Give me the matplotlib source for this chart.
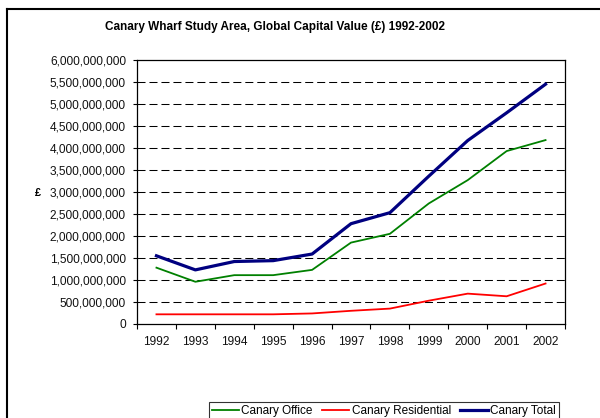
import matplotlib
matplotlib.use("Agg")
import matplotlib.pyplot as plt
import matplotlib.ticker as ticker
from matplotlib.lines import Line2D

plt.rcParams['font.family'] = ['Liberation Sans', 'DejaVu Sans']

years = ["1992", "1993", "1994", "1995", "1996", "1997",
         "1998", "1999", "2000", "2001", "2002"]
office = [1.28e9, 0.96e9, 1.11e9, 1.11e9, 1.23e9, 1.85e9,
          2.05e9, 2.74e9, 3.27e9, 3.93e9, 4.18e9]
residential = [0.22e9, 0.22e9, 0.22e9, 0.22e9, 0.24e9, 0.30e9,
               0.35e9, 0.53e9, 0.69e9, 0.63e9, 0.92e9]
total = [1.55e9, 1.23e9, 1.42e9, 1.44e9, 1.59e9, 2.28e9,
         2.53e9, 3.36e9, 4.17e9, 4.80e9, 5.45e9]

W, H = 600, 418
fig = plt.figure(figsize=(6.0, 4.18), dpi=100)
ax = fig.add_axes([137 / W, 1 - 324 / H, (565 - 137) / W, (324 - 60) / H])

x = list(range(len(years)))
ax.plot(x, office, color="#008000", lw=1.3, label="Canary Office")
ax.plot(x, residential, color="#ff0000", lw=1.3, label="Canary Residential")
ax.plot(x, total, color="#000080", lw=2.3, label="Canary Total")

ax.set_xlim(-0.5, len(years) - 0.5)
ax.set_ylim(0, 6e9)

# gridlines dashed, 500M steps
ax.yaxis.set_major_locator(ticker.MultipleLocator(5e8))
ax.yaxis.set_major_formatter(ticker.FuncFormatter(lambda v, p: "{:,.0f}".format(v)))
for v in range(1, 12):
    ax.axhline(v * 5e8, color="black", lw=0.75, ls=(0, (7.7, 3.8)), zorder=0)

# ticks at category boundaries, labels at centres
ax.set_xticks([i - 0.5 for i in range(len(years) + 1)])
ax.set_xticklabels([])
ax.set_xticks(x, minor=True)
ax.set_xticklabels(years, minor=True)
ax.tick_params(axis="x", which="major", direction="out", length=3.5, width=0.8)
ax.tick_params(axis="x", which="minor", length=0, pad=8.5, labelsize=8.6)
ax.tick_params(axis="y", direction="out", length=3, width=0.8, pad=5, labelsize=8.6)
for lab in ax.get_xticklabels(minor=True) + ax.get_yticklabels():
    lab.set_color("#111111")

for s in ax.spines.values():
    s.set_linewidth(0.9)
    s.set_color("black")

fig.text(275 / W, 1 - 27 / H, "Canary Wharf Study Area, Global Capital Value (\u00a3) 1992-2002",
         ha="center", va="center", fontsize=8.5, fontweight="bold")
fig.text(38 / W, 1 - 193 / H, "\u00a3", ha="center", va="center",
         fontsize=8, fontweight="bold")

# outer chart frame (right and bottom are cropped off)
fig.add_artist(Line2D([7 / W, 7 / W], [0, 1 - 9 / H], color="black", lw=1.5,
                      transform=fig.transFigure))
fig.add_artist(Line2D([7 / W, 1.0], [1 - 9 / H, 1 - 9 / H], color="black", lw=1.5,
                      transform=fig.transFigure))

leg = fig.legend(loc="upper left", bbox_to_anchor=(209 / W, 1 - 402 / H),
                 ncol=3, fontsize=8.5, frameon=True, fancybox=False,
                 handlelength=2.3, handletextpad=0.2, columnspacing=0.8,
                 borderpad=0.25, borderaxespad=0)
leg.get_frame().set_edgecolor("black")
leg.get_frame().set_linewidth(0.8)

fig.savefig("out.png", dpi=100)
